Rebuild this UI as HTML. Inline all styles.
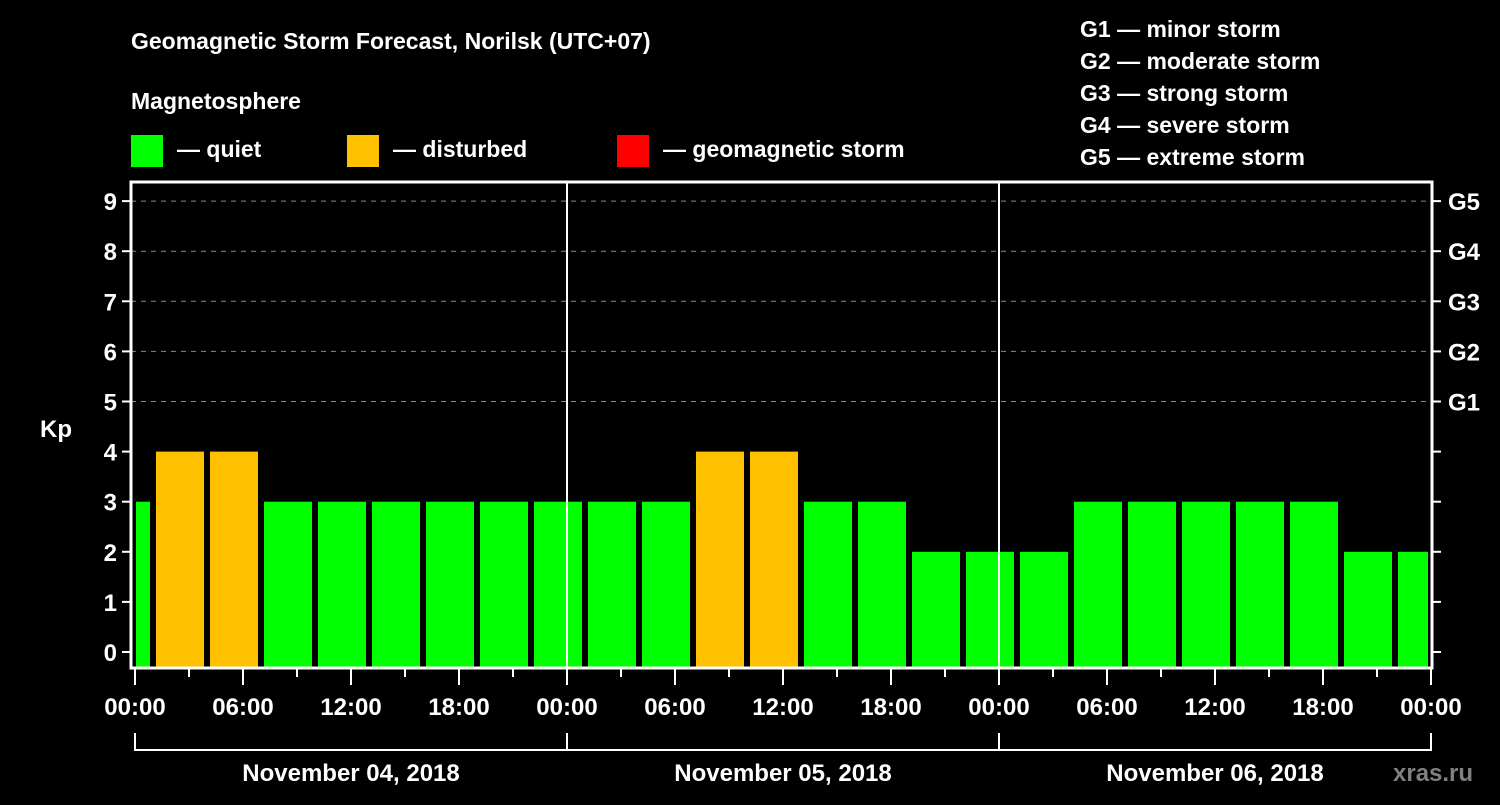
<!DOCTYPE html>
<html><head><meta charset="utf-8"><style>
body{margin:0;background:#000;width:1500px;height:800px;overflow:hidden;font-family:"Liberation Sans",sans-serif}
text{font-family:"Liberation Sans",sans-serif;font-weight:bold;fill:#fff}
</style></head><body>
<svg id="chart" width="1500" height="800" xmlns="http://www.w3.org/2000/svg">
<text x="131" y="49" font-size="23">Geomagnetic Storm Forecast, Norilsk (UTC+07)</text>
<text x="131" y="109" font-size="23">Magnetosphere</text>
<g><rect x="131" y="135" width="32" height="32" fill="#00ff00"/><text x="177" y="157" font-size="23">— quiet</text></g>
<g><rect x="347" y="135" width="32" height="32" fill="#ffc000"/><text x="393" y="157" font-size="23">— disturbed</text></g>
<g><rect x="617" y="135" width="32" height="32" fill="#ff0000"/><text x="663" y="157" font-size="23">— geomagnetic storm</text></g>
<g font-size="23">
<text x="1080" y="37">G1 — minor storm</text><text x="1080" y="69">G2 — moderate storm</text><text x="1080" y="101">G3 — strong storm</text><text x="1080" y="133">G4 — severe storm</text><text x="1080" y="165">G5 — extreme storm</text></g>
<text x="40" y="437" font-size="24">Kp</text>
<g id="grid"></g><g id="bars"></g><g id="axes"></g>
<text x="1393" y="781" font-size="24" style="fill:#808080">xras.ru</text>
</svg>
<script>
const kpValues=[3,4,4,3,3,3,3,3,3,3,3,4,4,3,3,2,2,2,3,3,3,3,3,2,2];
const dayLabels=["November 04, 2018","November 05, 2018","November 06, 2018"];
const yTicks=[0,1,2,3,4,5,6,7,8,9];
const gLabels=["G1","G2","G3","G4","G5"];
const hourLabels=["00:00","06:00","12:00","18:00"];
const NS="http://www.w3.org/2000/svg";
const X0=135,HOUR=18,Y0=652,UNIT=50.1;
const L=131,R=1432,T=182,B=668;
const xs=h=>X0+h*HOUR, ys=v=>Y0-v*UNIT;
function mk(tag,attrs,parent){const e=document.createElementNS(NS,tag);for(const k in attrs)e.setAttribute(k,attrs[k]);parent.appendChild(e);return e;}
const grid=document.getElementById('grid'),bars=document.getElementById('bars'),axes=document.getElementById('axes');
yTicks.forEach(v=>{
 if(v>=5){const g=mk('line',{x1:L,x2:R,y1:ys(v),y2:ys(v),stroke:'#888','stroke-width':1,'stroke-dasharray':'5,5'},grid);
 
 }
 const t=mk('line',{x1:L-9,x2:L,y1:ys(v),y2:ys(v),stroke:'#fff','stroke-width':2},axes);
 
 
 const l=mk('text',{x:117,y:ys(v)+9,'font-size':24,'text-anchor':'end'},axes);l.textContent=v;
 
 
 const rt=mk('line',{x1:R,x2:R+9,y1:ys(v),y2:ys(v),stroke:'#fff','stroke-width':2},axes);
 
 
 if(v>=5){const gl=mk('text',{x:1448,y:ys(v)+9,'font-size':24},axes);gl.textContent=gLabels[v-5];
 
 }
});
kpValues.forEach((v,i)=>{
 let h0=-2+3*i,h1=h0+3;
 let x1=xs(h0)+3,x2=xs(h1)-3;
 x1=Math.max(x1,136);x2=Math.min(x2,1428);
 const r=mk('rect',{x:x1,y:ys(v),width:x2-x1,height:B-ys(v),fill:v>=5?'#ff0000':(v>=4?'#ffc000':'#00ff00')},bars);
 
 
});
for(let d=1;d<3;d++){const dl=mk('line',{x1:xs(24*d),x2:xs(24*d),y1:T,y2:B,stroke:'#fff','stroke-width':2},axes);
 
 }
const fr=mk('rect',{x:L,y:T,width:R-L,height:B-T,fill:'none',stroke:'#fff','stroke-width':3},axes);


for(let h=0;h<=72;h+=3){const major=h%6===0;
 const t=mk('line',{x1:xs(h),x2:xs(h),y1:B,y2:B+(major?17:9),stroke:'#fff','stroke-width':2},axes);
 
 
 if(major){const l=mk('text',{x:xs(h),y:715,'font-size':24,'text-anchor':'middle'},axes);l.textContent=hourLabels[(h%24)/6];
 
 }}
mk('path',{d:`M${xs(0)} 733V750H${xs(72)}V733`,fill:'none',stroke:'#fff','stroke-width':2},axes);
dayLabels.forEach((d,i)=>{
 const b=mk('line',{x1:xs(24*i),x2:xs(24*i),y1:733,y2:750,stroke:'#fff','stroke-width':2},axes);
 
 
 const l=mk('text',{x:xs(24*i+12),y:781,'font-size':24,'text-anchor':'middle'},axes);l.textContent=d;
 
 
});
</script>
</body></html>
